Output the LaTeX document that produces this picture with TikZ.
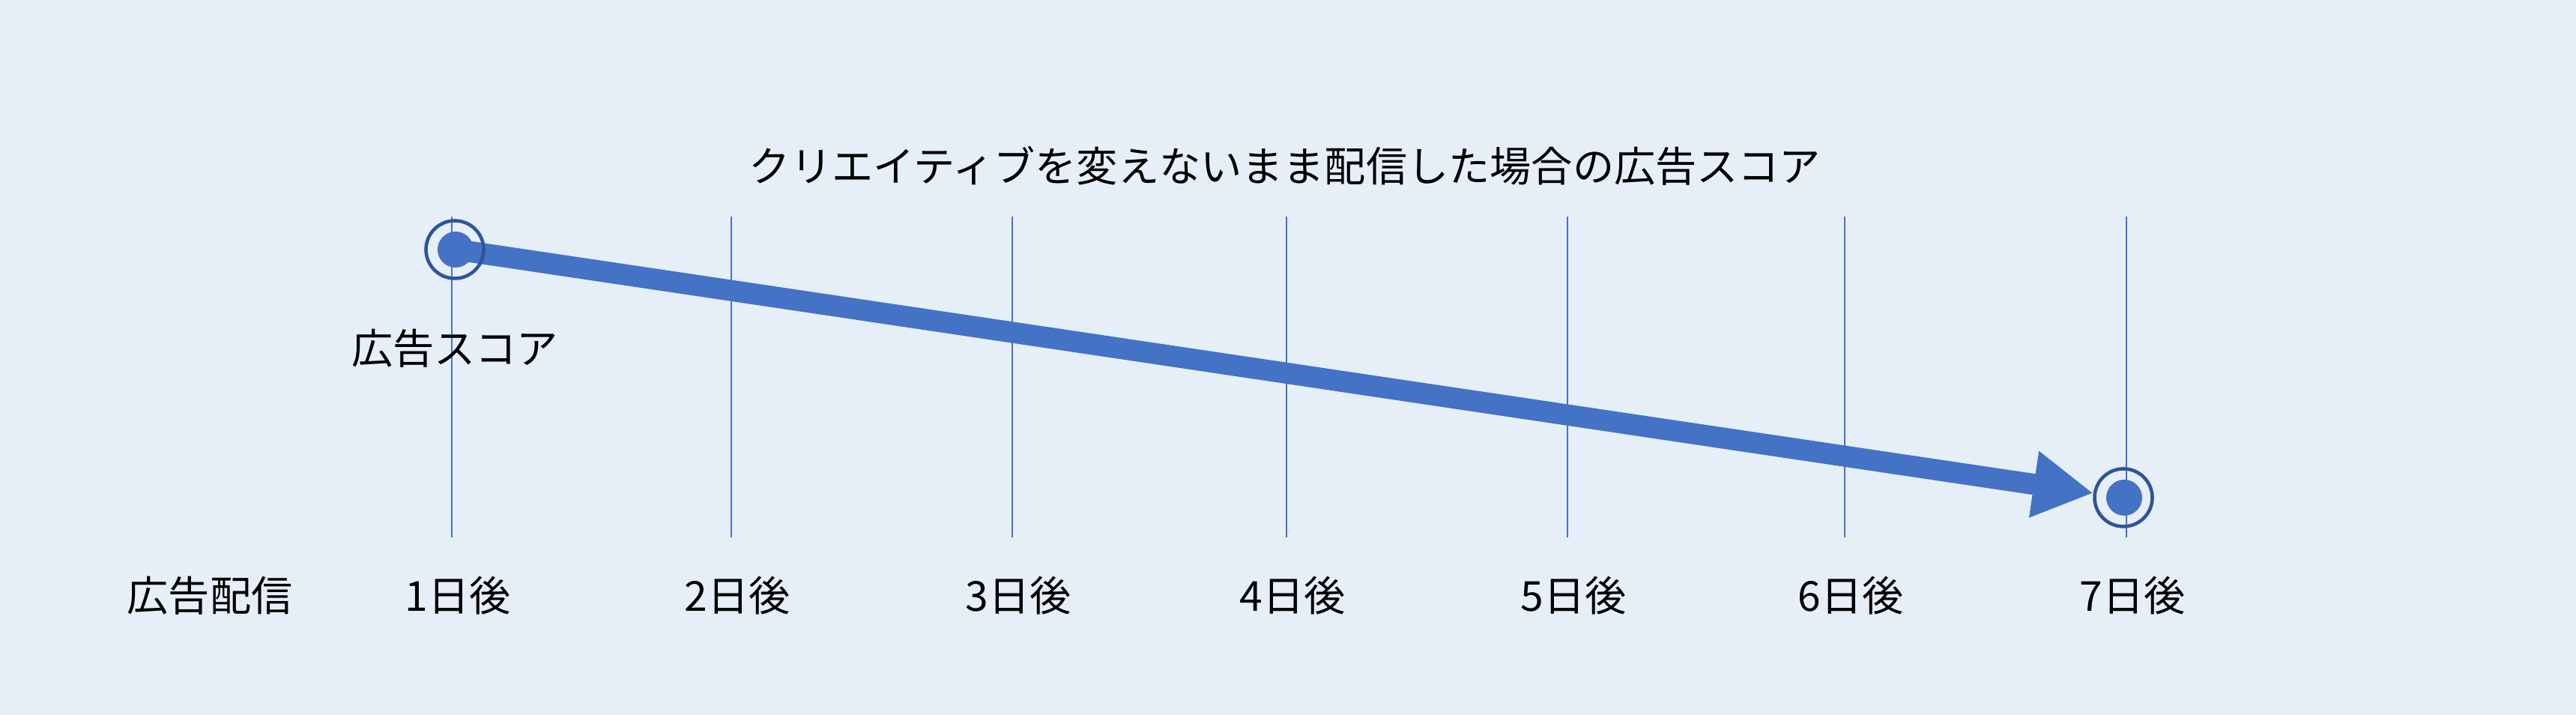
\documentclass[tikz,border=0pt]{standalone}
\usepackage{fontspec}
\setmainfont{Noto Sans CJK JP}
\usetikzlibrary{positioning,arrows.meta,backgrounds}
\definecolor{bgblue}{HTML}{E6EEF8}
\definecolor{lineblue}{HTML}{4472C4}
\definecolor{ringblue}{HTML}{2F5597}
\tikzset{tick/.style={draw=lineblue,line width=0.6pt},lbl/.style={font=\fontsize{15.7}{18}\selectfont,inner sep=0pt},ring/.style={circle,draw=ringblue,line width=1.3pt,minimum size=7.7mm,inner sep=0pt},dot/.style={circle,fill=lineblue,minimum size=4.8mm,inner sep=0pt},arr/.style={-{Triangle[length=8mm,width=8.4mm]},line width=8pt,draw=lineblue}}

\begin{document}
\begin{tikzpicture}
\node[lbl] (title) at (17.15,7.33) {クリエイティブを変えないまま配信した場合の広告スコア};
\node[lbl] (start) at (2.80,1.59) {広告配信};
\node[dot] (firstdot) at (6.08,6.21) {};
\node[dot] (lastdot) at (28.35,2.90) {};
\node[ring] (firstring) at (6.07,6.21) {};
\node[ring] (lastring) at (28.34,2.90) {};
\node[lbl,below=6.5mm of firstring] (score) {広告スコア};
\begin{scope}[on background layer]
\path[fill=bgblue,use as bounding box] (0,0) rectangle (34.38,9.54);
\foreach \x/\d in {6.03/1,9.76/2,13.51/3,17.17/4,20.92/5,24.62/6,28.38/7}{
  \coordinate (top\d) at (\x,6.65);
  \coordinate (bot\d) at (\x,2.37);
  \draw[tick] (top\d) -- (bot\d);
}
\draw[arr] (firstdot.center) -- (lastring);
\end{scope}
\foreach \x/\d in {6.03/1,9.76/2,13.51/3,17.17/4,20.92/5,24.62/6,28.38/7}
  \node[lbl] (day\d) at (\x+0.08,1.59) {\d 日後};
\end{tikzpicture}
\end{document}
